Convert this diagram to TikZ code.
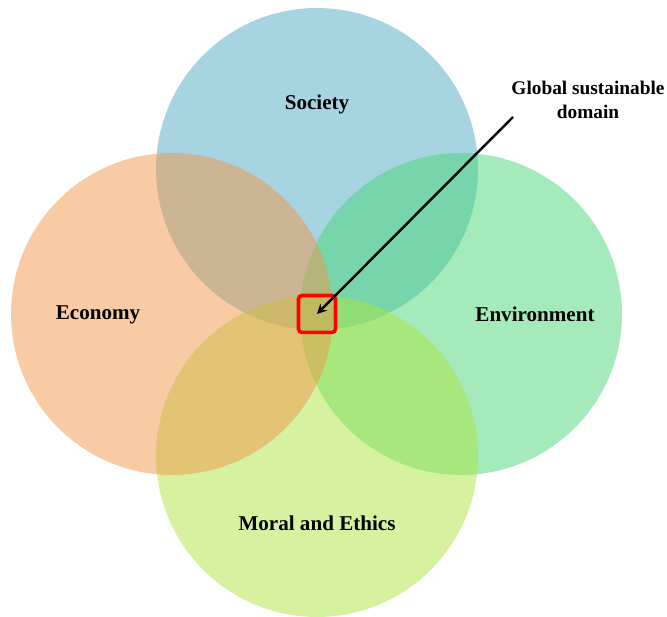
\documentclass[tikz,border=0pt]{standalone}
\usepackage{fontspec}
\setmainfont{Liberation Serif}
\usepackage{xcolor}
\usetikzlibrary{arrows,positioning}

\definecolor{societyc}{RGB}{77,171,195}
\definecolor{economyc}{RGB}{241,151,73}
\definecolor{environc}{RGB}{73,213,119}
\definecolor{moralc}{RGB}{173,229,65}

\begin{document}
\begin{tikzpicture}[x=0.02cm,y=-0.02cm,label/.style={font=\fontsize{12}{14}\selectfont\bfseries, text=black}]
        \tikzstyle{area} = [circle, minimum size=6.44cm, inner sep=0pt, fill opacity=0.5]
        \useasboundingbox (0,0) rectangle (667,617);
        \node[area, fill=societyc] (soc) at (317,169) {};
        \node[area, fill=environc] (env) at (461,314) {};
        \node[area, fill=moralc] (mor) at (317,456) {};
        \node[area, fill=economyc] (eco) at (172,314) {};

        \node[label] (lsoc) at (317,104) {Society};
        \node[label] (leco) at (98,315) {Economy};
        \node[label] (lenv) at (535,314) {Environment};
        \node[label] (lmor) at (317,523) {Moral and Ethics};
        \node[label, font=\fontsize{11}{14}\selectfont\bfseries, align=center] (lgsd) at (588,100) {Global sustainable\\domain};

        \node[draw=red, line width=2pt, rounded corners=2pt, minimum size=0.74cm] (gsd) at (317,314) {};
        \coordinate (tail) at (513,117);
        \draw [-stealth, line width=1.4pt] (tail) -- (gsd.center);
        \end{tikzpicture}
\end{document}
